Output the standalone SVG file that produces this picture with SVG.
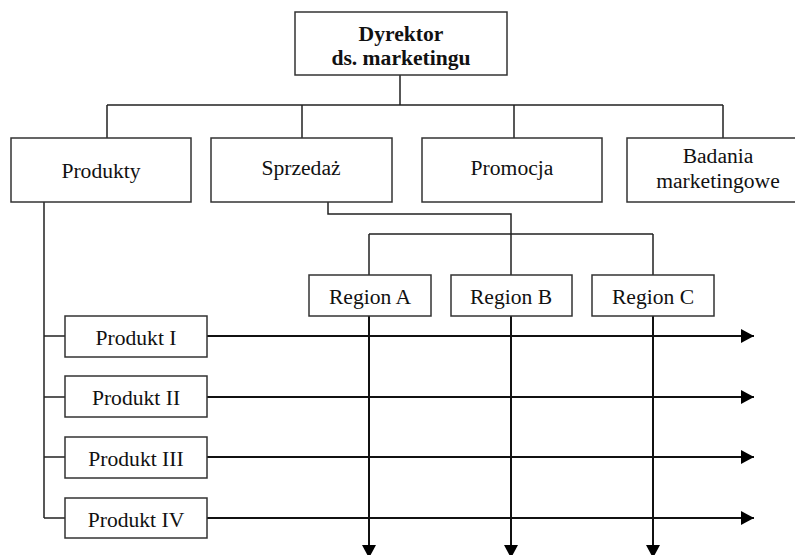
<svg xmlns="http://www.w3.org/2000/svg" width="795" height="555" viewBox="0 0 795 555">
<defs>
<style>
.box{fill:#fff;stroke:#333;stroke-width:1.5}
.t{font-family:'Liberation Serif',serif;font-size:21.6px;fill:#111;text-anchor:middle}
.b{font-weight:bold}
.c{fill:none;stroke:#222;stroke-width:1.5}
.a{fill:none;stroke:#111;stroke-width:2}
</style>
<marker id="ah" markerUnits="userSpaceOnUse" markerWidth="13" markerHeight="14" refX="13" refY="7" orient="auto">
<path d="M0,0 L13,7 L0,14 z" fill="#000"/>
</marker>
</defs>
<rect width="795" height="555" fill="#fff"/>
<g id="connectors">
<path class="c" d="M400,75 V105 M107,105 H723 M107,105 V138 M302,105 V138 M514,105 V138 M723,105 V138"/>
<path class="c" d="M328,202 V214 H511 V275 M369,234 H653 M369,234 V275 M653,234 V275"/>
<path class="c" d="M44,202 V518 M44,336 H65 M44,397 H65 M44,457 H65 M44,518 H65"/>
<line class="a" x1="207" y1="336" x2="754" y2="336" marker-end="url(#ah)"/>
<line class="a" x1="207" y1="397" x2="754" y2="397" marker-end="url(#ah)"/>
<line class="a" x1="207" y1="457" x2="754" y2="457" marker-end="url(#ah)"/>
<line class="a" x1="207" y1="518" x2="754" y2="518" marker-end="url(#ah)"/>
<line class="a" x1="369" y1="316" x2="369" y2="558" marker-end="url(#ah)"/>
<line class="a" x1="511" y1="316" x2="511" y2="558" marker-end="url(#ah)"/>
<line class="a" x1="653" y1="316" x2="653" y2="558" marker-end="url(#ah)"/>
</g>
<g id="dyrektor">
<rect class="box" x="295" y="12" width="212" height="63"/>
<text class="t b" x="401" y="41">Dyrektor</text>
<text class="t b" x="401" y="65">ds. marketingu</text>
</g>
<g id="produkty">
<rect class="box" x="11" y="138" width="180" height="64"/>
<text class="t" x="101" y="178">Produkty</text>
</g>
<g id="sprzedaz">
<rect class="box" x="211" y="138" width="181" height="64"/>
<text class="t" x="301" y="175">Sprzedaż</text>
</g>
<g id="promocja">
<rect class="box" x="422" y="138" width="180" height="64"/>
<text class="t" x="512" y="175">Promocja</text>
</g>
<g id="badania">
<rect class="box" x="627" y="138" width="180" height="64"/>
<text class="t" x="718" y="163">Badania</text>
<text class="t" x="718" y="188">marketingowe</text>
</g>
<g id="regionA">
<rect class="box" x="309" y="275" width="122" height="41"/>
<text class="t" x="370" y="304">Region A</text>
</g>
<g id="regionB">
<rect class="box" x="451" y="275" width="121" height="41"/>
<text class="t" x="511" y="304">Region B</text>
</g>
<g id="regionC">
<rect class="box" x="592" y="275" width="122" height="41"/>
<text class="t" x="653" y="304">Region C</text>
</g>
<g id="produkt1">
<rect class="box" x="65" y="316" width="142" height="41"/>
<text class="t" x="136" y="345">Produkt I</text>
</g>
<g id="produkt2">
<rect class="box" x="65" y="376" width="142" height="41"/>
<text class="t" x="136" y="405">Produkt II</text>
</g>
<g id="produkt3">
<rect class="box" x="65" y="437" width="142" height="41"/>
<text class="t" x="136" y="466">Produkt III</text>
</g>
<g id="produkt4">
<rect class="box" x="65" y="498" width="142" height="40"/>
<text class="t" x="136" y="527">Produkt IV</text>
</g>
</svg>
